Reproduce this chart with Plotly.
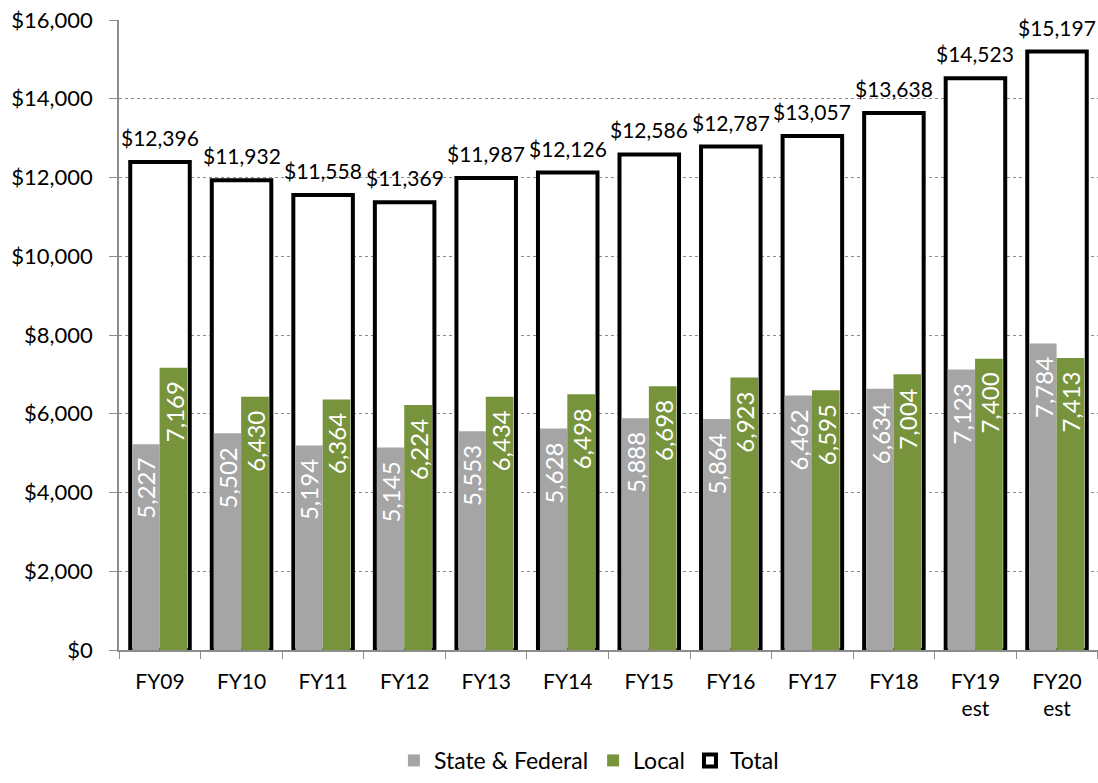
import plotly.graph_objects as go

categories = ["FY09", "FY10", "FY11", "FY12", "FY13", "FY14", "FY15", "FY16",
              "FY17", "FY18", "FY19<br>est", "FY20<br>est"]
state_federal = [5227, 5502, 5194, 5145, 5553, 5628, 5888, 5864, 6462, 6634, 7123, 7784]
local = [7169, 6430, 6364, 6224, 6434, 6498, 6698, 6923, 6595, 7004, 7400, 7413]
total = [12396, 11932, 11558, 11369, 11987, 12126, 12586, 12787, 13057, 13638, 14523, 15197]
y_ticks = [0, 2000, 4000, 6000, 8000, 10000, 12000, 14000, 16000]

FONT = "Lato"
fig = go.Figure()

fig.add_trace(go.Bar(
    x=categories, y=total, name="Total",
    width=0.73, offset=-0.365,
    marker=dict(color="white", line=dict(color="black", width=4)),
    hoverinfo="skip", legendrank=3,
))
fig.add_trace(go.Bar(
    x=categories, y=state_federal, name="State & Federal",
    width=0.335, offset=-0.34,
    marker=dict(color="#A5A5A5", line=dict(width=0)),
    legendrank=1,
))
fig.add_trace(go.Bar(
    x=categories, y=local, name="Local",
    width=0.34, offset=-0.005,
    marker=dict(color="#77933C", line=dict(width=0)),
    legendrank=2,
))

# inside (rotated) value labels
for c, v in zip(categories, state_federal):
    fig.add_annotation(x=c, y=v, text=f"{v:,}", showarrow=False, textangle=-90,
                       xshift=-14, yanchor="top", yshift=-12,
                       font=dict(size=24, color="white", family=FONT))
for c, v in zip(categories, local):
    fig.add_annotation(x=c, y=v, text=f"{v:,}", showarrow=False, textangle=-90,
                       xshift=14, yanchor="top", yshift=-12,
                       font=dict(size=24, color="white", family=FONT))
# total labels
for c, v in zip(categories, total):
    fig.add_annotation(x=c, y=v, text=f"${v:,}", showarrow=False,
                       yanchor="bottom", yshift=10,
                       font=dict(size=21, color="black", family=FONT))

fig.update_layout(
    width=1098, height=783,
    margin=dict(l=119, r=0, t=20, b=133),
    paper_bgcolor="white", plot_bgcolor="white",
    barmode="overlay",
    font=dict(family=FONT, size=22, color="black"),
    showlegend=True,
    legend=dict(orientation="h", x=0.48, xanchor="center", y=-0.2095, yanchor="bottom",
                traceorder="normal", font=dict(size=23, family=FONT)),
)

fig.update_xaxes(
    showline=True, linecolor="#8C8C8C", linewidth=1.5,
    ticks="outside", tickson="boundaries", ticklen=7, tickcolor="#8C8C8C",
    tickfont=dict(size=21, family=FONT), showgrid=False, ticklabelstandoff=12,
)
fig.update_yaxes(
    range=[0, 16000], tickvals=y_ticks,
    ticktext=[f"${v:,}" for v in y_ticks],
    showline=True, linecolor="#8C8C8C", linewidth=1.5,
    ticks="outside", ticklen=8, tickcolor="#8C8C8C",
    showgrid=True, gridcolor="#8C8C8C", griddash="dot", gridwidth=1,
    tickfont=dict(size=22, family=FONT), zeroline=False, ticklabelstandoff=12,
)

fig.write_html("out.html")
